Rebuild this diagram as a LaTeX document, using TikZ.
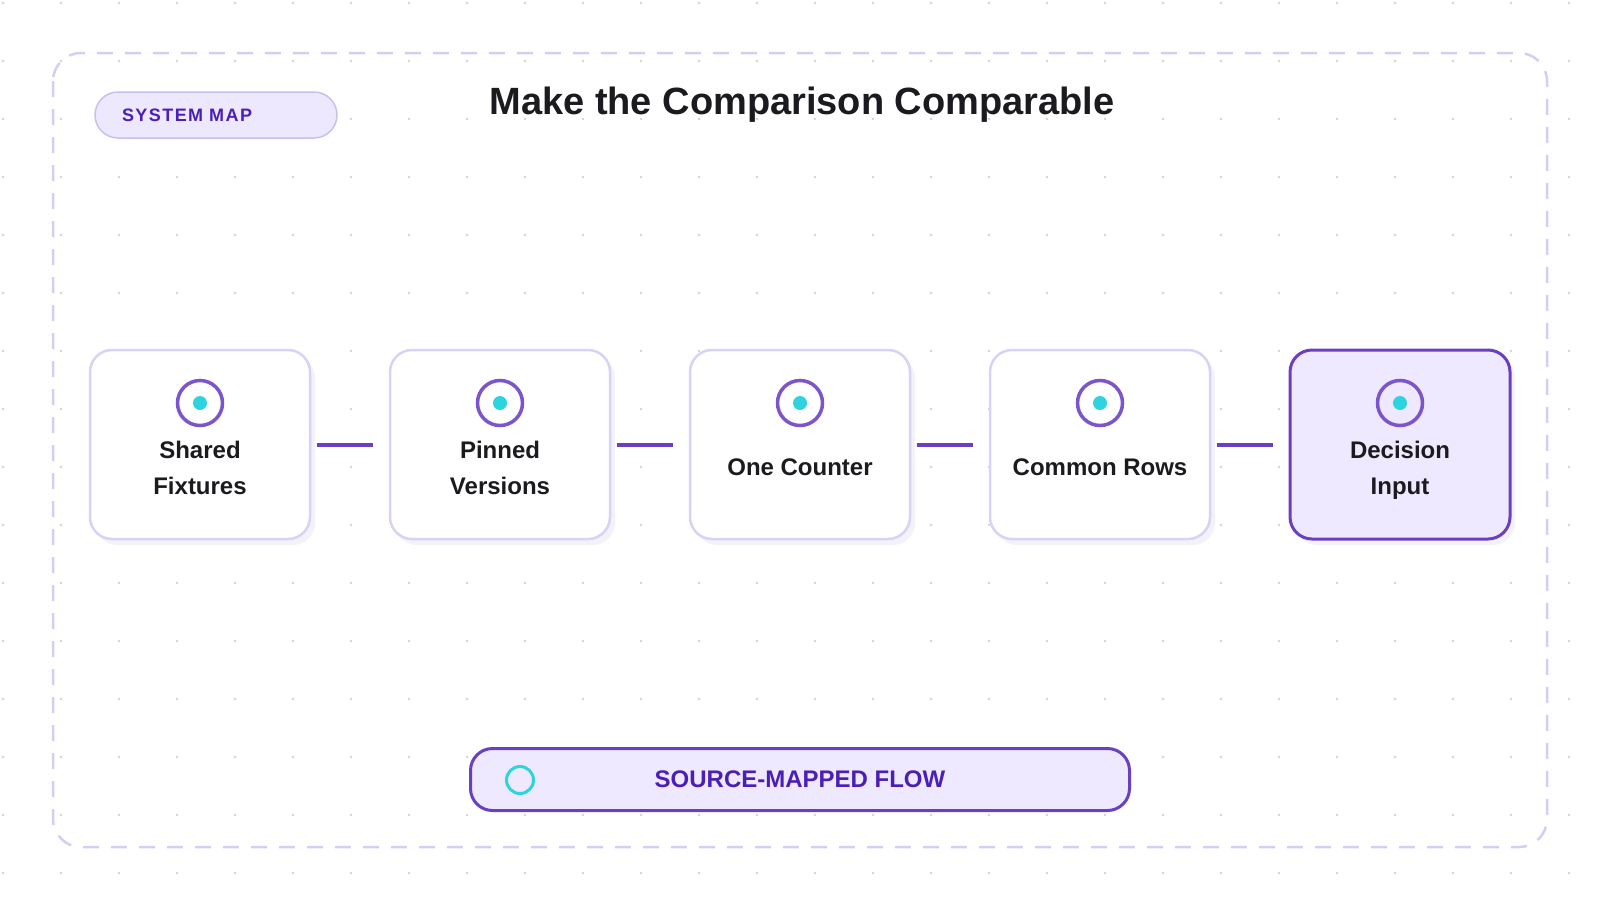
\documentclass[tikz,border=0pt]{standalone}
\usepackage{fontspec}
\setmainfont{Liberation Sans}
\usetikzlibrary{shadows}
\definecolor{framec}{HTML}{D3CEF4}
\definecolor{cardline}{HTML}{D9D2F7}
\definecolor{linkc}{HTML}{6B3FC2}
\definecolor{ringc}{HTML}{7C55CC}
\definecolor{cyanc}{HTML}{2ED3E0}
\definecolor{hotfill}{HTML}{EEE9FE}
\definecolor{pillfill}{HTML}{EDE8FD}
\definecolor{pilldraw}{HTML}{C9C0EE}
\definecolor{tagtext}{HTML}{4B1FB5}
\definecolor{ink}{HTML}{1B1B1F}
\definecolor{dotc}{HTML}{D2D2DA}
\definecolor{shadowc}{HTML}{F3F2F9}

\begin{document}
\begin{tikzpicture}[x=1pt, y=-1pt,
    card/.style={draw=cardline, line width=2.5pt, fill=white, rounded corners=22pt,
      minimum width=220pt, minimum height=189pt, inner sep=0pt,
      drop shadow={shadow xshift=5pt, shadow yshift=-6pt, fill=shadowc, opacity=1}},
    hotcard/.style={card, draw=linkc, line width=3pt, fill=hotfill},
    ring/.style={circle, draw=ringc, line width=3.5pt, minimum size=45pt, inner sep=0pt},
    pip/.style={circle, fill=cyanc, minimum size=14pt, inner sep=0pt},
    cardtext/.style={align=center, font=\fontsize{24}{36}\selectfont\bfseries, text=ink,
      text depth=0pt, inner sep=0pt},
    link/.style={draw=linkc, line width=4pt},
    pill/.style={draw=pilldraw, line width=1.5pt, fill=pillfill, rounded corners=23pt,
      minimum height=46pt, text width=188pt, inner xsep=27pt, inner ysep=0pt, align=left,
      font=\fontsize{18}{22}\selectfont\bfseries\addfontfeatures{LetterSpace=8}, text=tagtext},
    bar/.style={draw=linkc, line width=3pt, fill=hotfill, rounded corners=22pt,
      minimum width=659pt, minimum height=62pt,
      font=\fontsize{24}{28}\selectfont\bfseries, text=tagtext},
    hollow/.style={circle, draw=cyanc, line width=3pt, minimum size=27pt, inner sep=0pt},
  ]
      \useasboundingbox (0,0) rectangle (1600,900);
      \foreach \x in {0,...,27}{
        \foreach \y in {0,...,15}{
          \fill[dotc] ({3+58*\x},{3+58*\y}) circle (1.3pt);
        }
      }
      \draw [framec, line width=2.5pt, dash pattern=on 16pt off 12pt, rounded corners=28pt] (53,53) rectangle (1547,847);
      \node[pill] (tag) at (216,115) {SYSTEM MAP};
      \node[font=\fontsize{38}{46}\selectfont\bfseries, text=ink, anchor=base, inner sep=0pt] (ttl) at (802,114) {Make the Comparison Comparable};
      \foreach \i/\x/\sty/\lbl in {1/200/card/{Shared\\Fixtures}, 2/500/card/{Pinned\\Versions}, 3/800/card/{One Counter}, 4/1100/card/{Common Rows}, 5/1400/hotcard/{Decision\\Input}}{
        \node[\sty] (c\i) at (\x,444.5) {};
        \node[ring] (r\i) at (\x,403) {};
        \node[pip] (p\i) at (r\i) {};
        \node[cardtext] (t\i) at (\x,467.5) {\lbl};
      }
      \foreach \i/\j in {1/2, 2/3, 3/4, 4/5}{
        \draw[link] ([xshift=6pt]c\i.east) -- ([xshift=-16pt]c\j.west);
      }
      \node[bar] (flow) at (800,779.5) {SOURCE-MAPPED FLOW};
      \node[hollow] (flowdot) at (520,780) {};
    \end{tikzpicture}
\end{document}
